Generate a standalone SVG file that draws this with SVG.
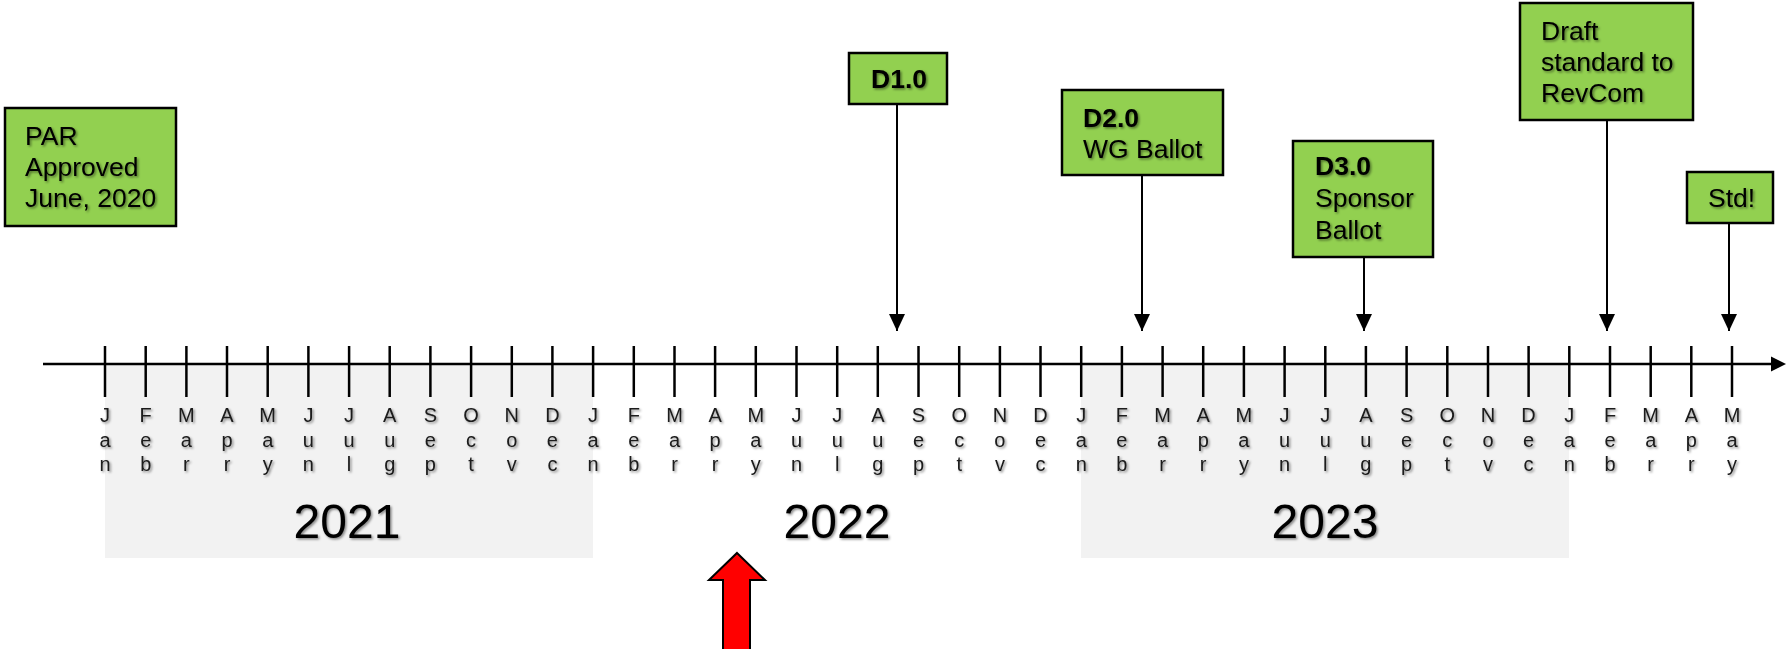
<svg xmlns="http://www.w3.org/2000/svg" width="1787" height="649" viewBox="0 0 1787 649">
<defs>
<filter id="sh" x="-10%" y="-10%" width="130%" height="130%"><feDropShadow dx="1.5" dy="1.5" stdDeviation="1.1" flood-color="#000" flood-opacity="0.45"/></filter>
<marker id="ah" markerUnits="userSpaceOnUse" markerWidth="18" markerHeight="16" refX="17" refY="8" orient="auto"><path d="M0,0 L17,8 L0,16 Z" fill="#000"/></marker>
</defs>
<style>
.box{fill:#92d050;stroke:#000;stroke-width:2.5}
.bt{font-family:"Liberation Sans",Arial,sans-serif;font-size:26.5px;fill:#000}
.b{font-weight:bold}
.mo{font-family:"Liberation Sans",Arial,sans-serif;font-size:20px;fill:#1a1a1a;text-anchor:middle}
.yr{font-family:"Liberation Sans",Arial,sans-serif;font-size:48px;fill:#000;text-anchor:middle}
.tick{stroke:#000;stroke-width:2.5}
.con{stroke:#000;stroke-width:2;fill:none}
.yb{fill:#f2f2f2}
</style>
<rect id="bg" width="1787" height="649" fill="#fff"/>
<g id="year-bands">
<rect class="yb" x="105" y="364" width="488" height="194"/>
<rect class="yb" x="1081" y="364" width="488" height="194"/>
</g>
<g id="years" filter="url(#sh)">
<text class="yr" x="347" y="538">2021</text>
<text class="yr" x="837" y="538">2022</text>
<text class="yr" x="1325" y="538">2023</text>
</g>
<g id="axis">
<line x1="43" y1="364" x2="1774" y2="364" stroke="#000" stroke-width="2.5"/>
<path d="M1771,356.5 L1786,364 L1771,371.5 Z" fill="#000"/>
<g id="ticks">
<line class="tick" x1="105" y1="346" x2="105" y2="397"/>
<line class="tick" x1="145.7" y1="346" x2="145.7" y2="397"/>
<line class="tick" x1="186.4" y1="346" x2="186.4" y2="397"/>
<line class="tick" x1="227" y1="346" x2="227" y2="397"/>
<line class="tick" x1="267.7" y1="346" x2="267.7" y2="397"/>
<line class="tick" x1="308.4" y1="346" x2="308.4" y2="397"/>
<line class="tick" x1="349.1" y1="346" x2="349.1" y2="397"/>
<line class="tick" x1="389.7" y1="346" x2="389.7" y2="397"/>
<line class="tick" x1="430.4" y1="346" x2="430.4" y2="397"/>
<line class="tick" x1="471.1" y1="346" x2="471.1" y2="397"/>
<line class="tick" x1="511.8" y1="346" x2="511.8" y2="397"/>
<line class="tick" x1="552.4" y1="346" x2="552.4" y2="397"/>
<line class="tick" x1="593.1" y1="346" x2="593.1" y2="397"/>
<line class="tick" x1="633.8" y1="346" x2="633.8" y2="397"/>
<line class="tick" x1="674.5" y1="346" x2="674.5" y2="397"/>
<line class="tick" x1="715.1" y1="346" x2="715.1" y2="397"/>
<line class="tick" x1="755.8" y1="346" x2="755.8" y2="397"/>
<line class="tick" x1="796.5" y1="346" x2="796.5" y2="397"/>
<line class="tick" x1="837.2" y1="346" x2="837.2" y2="397"/>
<line class="tick" x1="877.8" y1="346" x2="877.8" y2="397"/>
<line class="tick" x1="918.5" y1="346" x2="918.5" y2="397"/>
<line class="tick" x1="959.2" y1="346" x2="959.2" y2="397"/>
<line class="tick" x1="999.9" y1="346" x2="999.9" y2="397"/>
<line class="tick" x1="1040.5" y1="346" x2="1040.5" y2="397"/>
<line class="tick" x1="1081.2" y1="346" x2="1081.2" y2="397"/>
<line class="tick" x1="1121.9" y1="346" x2="1121.9" y2="397"/>
<line class="tick" x1="1162.6" y1="346" x2="1162.6" y2="397"/>
<line class="tick" x1="1203.2" y1="346" x2="1203.2" y2="397"/>
<line class="tick" x1="1243.9" y1="346" x2="1243.9" y2="397"/>
<line class="tick" x1="1284.6" y1="346" x2="1284.6" y2="397"/>
<line class="tick" x1="1325.3" y1="346" x2="1325.3" y2="397"/>
<line class="tick" x1="1365.9" y1="346" x2="1365.9" y2="397"/>
<line class="tick" x1="1406.6" y1="346" x2="1406.6" y2="397"/>
<line class="tick" x1="1447.3" y1="346" x2="1447.3" y2="397"/>
<line class="tick" x1="1488" y1="346" x2="1488" y2="397"/>
<line class="tick" x1="1528.6" y1="346" x2="1528.6" y2="397"/>
<line class="tick" x1="1569.3" y1="346" x2="1569.3" y2="397"/>
<line class="tick" x1="1610" y1="346" x2="1610" y2="397"/>
<line class="tick" x1="1650.7" y1="346" x2="1650.7" y2="397"/>
<line class="tick" x1="1691.3" y1="346" x2="1691.3" y2="397"/>
<line class="tick" x1="1732" y1="346" x2="1732" y2="397"/>
</g>
</g>
<g id="months" filter="url(#sh)">
<text class="mo" y="422"><tspan x="105">J</tspan><tspan x="105" dy="24.7">a</tspan><tspan x="105" dy="24.7">n</tspan></text>
<text class="mo" y="422"><tspan x="145.7">F</tspan><tspan x="145.7" dy="24.7">e</tspan><tspan x="145.7" dy="24.7">b</tspan></text>
<text class="mo" y="422"><tspan x="186.4">M</tspan><tspan x="186.4" dy="24.7">a</tspan><tspan x="186.4" dy="24.7">r</tspan></text>
<text class="mo" y="422"><tspan x="227">A</tspan><tspan x="227" dy="24.7">p</tspan><tspan x="227" dy="24.7">r</tspan></text>
<text class="mo" y="422"><tspan x="267.7">M</tspan><tspan x="267.7" dy="24.7">a</tspan><tspan x="267.7" dy="24.7">y</tspan></text>
<text class="mo" y="422"><tspan x="308.4">J</tspan><tspan x="308.4" dy="24.7">u</tspan><tspan x="308.4" dy="24.7">n</tspan></text>
<text class="mo" y="422"><tspan x="349.1">J</tspan><tspan x="349.1" dy="24.7">u</tspan><tspan x="349.1" dy="24.7">l</tspan></text>
<text class="mo" y="422"><tspan x="389.7">A</tspan><tspan x="389.7" dy="24.7">u</tspan><tspan x="389.7" dy="24.7">g</tspan></text>
<text class="mo" y="422"><tspan x="430.4">S</tspan><tspan x="430.4" dy="24.7">e</tspan><tspan x="430.4" dy="24.7">p</tspan></text>
<text class="mo" y="422"><tspan x="471.1">O</tspan><tspan x="471.1" dy="24.7">c</tspan><tspan x="471.1" dy="24.7">t</tspan></text>
<text class="mo" y="422"><tspan x="511.8">N</tspan><tspan x="511.8" dy="24.7">o</tspan><tspan x="511.8" dy="24.7">v</tspan></text>
<text class="mo" y="422"><tspan x="552.4">D</tspan><tspan x="552.4" dy="24.7">e</tspan><tspan x="552.4" dy="24.7">c</tspan></text>
<text class="mo" y="422"><tspan x="593.1">J</tspan><tspan x="593.1" dy="24.7">a</tspan><tspan x="593.1" dy="24.7">n</tspan></text>
<text class="mo" y="422"><tspan x="633.8">F</tspan><tspan x="633.8" dy="24.7">e</tspan><tspan x="633.8" dy="24.7">b</tspan></text>
<text class="mo" y="422"><tspan x="674.5">M</tspan><tspan x="674.5" dy="24.7">a</tspan><tspan x="674.5" dy="24.7">r</tspan></text>
<text class="mo" y="422"><tspan x="715.1">A</tspan><tspan x="715.1" dy="24.7">p</tspan><tspan x="715.1" dy="24.7">r</tspan></text>
<text class="mo" y="422"><tspan x="755.8">M</tspan><tspan x="755.8" dy="24.7">a</tspan><tspan x="755.8" dy="24.7">y</tspan></text>
<text class="mo" y="422"><tspan x="796.5">J</tspan><tspan x="796.5" dy="24.7">u</tspan><tspan x="796.5" dy="24.7">n</tspan></text>
<text class="mo" y="422"><tspan x="837.2">J</tspan><tspan x="837.2" dy="24.7">u</tspan><tspan x="837.2" dy="24.7">l</tspan></text>
<text class="mo" y="422"><tspan x="877.8">A</tspan><tspan x="877.8" dy="24.7">u</tspan><tspan x="877.8" dy="24.7">g</tspan></text>
<text class="mo" y="422"><tspan x="918.5">S</tspan><tspan x="918.5" dy="24.7">e</tspan><tspan x="918.5" dy="24.7">p</tspan></text>
<text class="mo" y="422"><tspan x="959.2">O</tspan><tspan x="959.2" dy="24.7">c</tspan><tspan x="959.2" dy="24.7">t</tspan></text>
<text class="mo" y="422"><tspan x="999.9">N</tspan><tspan x="999.9" dy="24.7">o</tspan><tspan x="999.9" dy="24.7">v</tspan></text>
<text class="mo" y="422"><tspan x="1040.5">D</tspan><tspan x="1040.5" dy="24.7">e</tspan><tspan x="1040.5" dy="24.7">c</tspan></text>
<text class="mo" y="422"><tspan x="1081.2">J</tspan><tspan x="1081.2" dy="24.7">a</tspan><tspan x="1081.2" dy="24.7">n</tspan></text>
<text class="mo" y="422"><tspan x="1121.9">F</tspan><tspan x="1121.9" dy="24.7">e</tspan><tspan x="1121.9" dy="24.7">b</tspan></text>
<text class="mo" y="422"><tspan x="1162.6">M</tspan><tspan x="1162.6" dy="24.7">a</tspan><tspan x="1162.6" dy="24.7">r</tspan></text>
<text class="mo" y="422"><tspan x="1203.2">A</tspan><tspan x="1203.2" dy="24.7">p</tspan><tspan x="1203.2" dy="24.7">r</tspan></text>
<text class="mo" y="422"><tspan x="1243.9">M</tspan><tspan x="1243.9" dy="24.7">a</tspan><tspan x="1243.9" dy="24.7">y</tspan></text>
<text class="mo" y="422"><tspan x="1284.6">J</tspan><tspan x="1284.6" dy="24.7">u</tspan><tspan x="1284.6" dy="24.7">n</tspan></text>
<text class="mo" y="422"><tspan x="1325.3">J</tspan><tspan x="1325.3" dy="24.7">u</tspan><tspan x="1325.3" dy="24.7">l</tspan></text>
<text class="mo" y="422"><tspan x="1365.9">A</tspan><tspan x="1365.9" dy="24.7">u</tspan><tspan x="1365.9" dy="24.7">g</tspan></text>
<text class="mo" y="422"><tspan x="1406.6">S</tspan><tspan x="1406.6" dy="24.7">e</tspan><tspan x="1406.6" dy="24.7">p</tspan></text>
<text class="mo" y="422"><tspan x="1447.3">O</tspan><tspan x="1447.3" dy="24.7">c</tspan><tspan x="1447.3" dy="24.7">t</tspan></text>
<text class="mo" y="422"><tspan x="1488">N</tspan><tspan x="1488" dy="24.7">o</tspan><tspan x="1488" dy="24.7">v</tspan></text>
<text class="mo" y="422"><tspan x="1528.6">D</tspan><tspan x="1528.6" dy="24.7">e</tspan><tspan x="1528.6" dy="24.7">c</tspan></text>
<text class="mo" y="422"><tspan x="1569.3">J</tspan><tspan x="1569.3" dy="24.7">a</tspan><tspan x="1569.3" dy="24.7">n</tspan></text>
<text class="mo" y="422"><tspan x="1610">F</tspan><tspan x="1610" dy="24.7">e</tspan><tspan x="1610" dy="24.7">b</tspan></text>
<text class="mo" y="422"><tspan x="1650.7">M</tspan><tspan x="1650.7" dy="24.7">a</tspan><tspan x="1650.7" dy="24.7">r</tspan></text>
<text class="mo" y="422"><tspan x="1691.3">A</tspan><tspan x="1691.3" dy="24.7">p</tspan><tspan x="1691.3" dy="24.7">r</tspan></text>
<text class="mo" y="422"><tspan x="1732">M</tspan><tspan x="1732" dy="24.7">a</tspan><tspan x="1732" dy="24.7">y</tspan></text>
</g>
<g id="connectors">
<line class="con" x1="897" y1="104" x2="897" y2="331" marker-end="url(#ah)"/>
<line class="con" x1="1142" y1="175" x2="1142" y2="331" marker-end="url(#ah)"/>
<line class="con" x1="1364" y1="257" x2="1364" y2="331" marker-end="url(#ah)"/>
<line class="con" x1="1607" y1="120" x2="1607" y2="331" marker-end="url(#ah)"/>
<line class="con" x1="1729" y1="223" x2="1729" y2="331" marker-end="url(#ah)"/>
</g>
<g id="par">
<rect class="box" x="5" y="108" width="171" height="118"/>
<text class="bt" filter="url(#sh)"><tspan x="25" y="145">PAR</tspan><tspan x="25" y="176">Approved</tspan><tspan x="25" y="207">June, 2020</tspan></text>
</g>
<g id="d1">
<rect class="box" x="849" y="53" width="98" height="51"/>
<text class="bt b" filter="url(#sh)" x="871" y="88">D1.0</text>
</g>
<g id="d2">
<rect class="box" x="1062" y="90" width="161" height="85"/>
<text class="bt" filter="url(#sh)"><tspan class="b" x="1083" y="127">D2.0</tspan><tspan x="1083" y="158">WG Ballot</tspan></text>
</g>
<g id="d3">
<rect class="box" x="1293" y="141" width="140" height="116"/>
<text class="bt" filter="url(#sh)"><tspan class="b" x="1315" y="175">D3.0</tspan><tspan x="1315" y="207">Sponsor</tspan><tspan x="1315" y="239">Ballot</tspan></text>
</g>
<g id="revcom">
<rect class="box" x="1520" y="3" width="173" height="117"/>
<text class="bt" filter="url(#sh)"><tspan x="1541" y="40">Draft</tspan><tspan x="1541" y="71">standard to</tspan><tspan x="1541" y="102">RevCom</tspan></text>
</g>
<g id="std">
<rect class="box" x="1687" y="172" width="86" height="51"/>
<text class="bt" filter="url(#sh)" x="1708" y="207">Std!</text>
</g>
<g id="red-arrow">
<path d="M737,553 L765,580 L750,580 L750,652 L723,652 L723,580 L709,580 Z" fill="#ff0000" stroke="#000" stroke-width="2"/>
</g>
</svg>
